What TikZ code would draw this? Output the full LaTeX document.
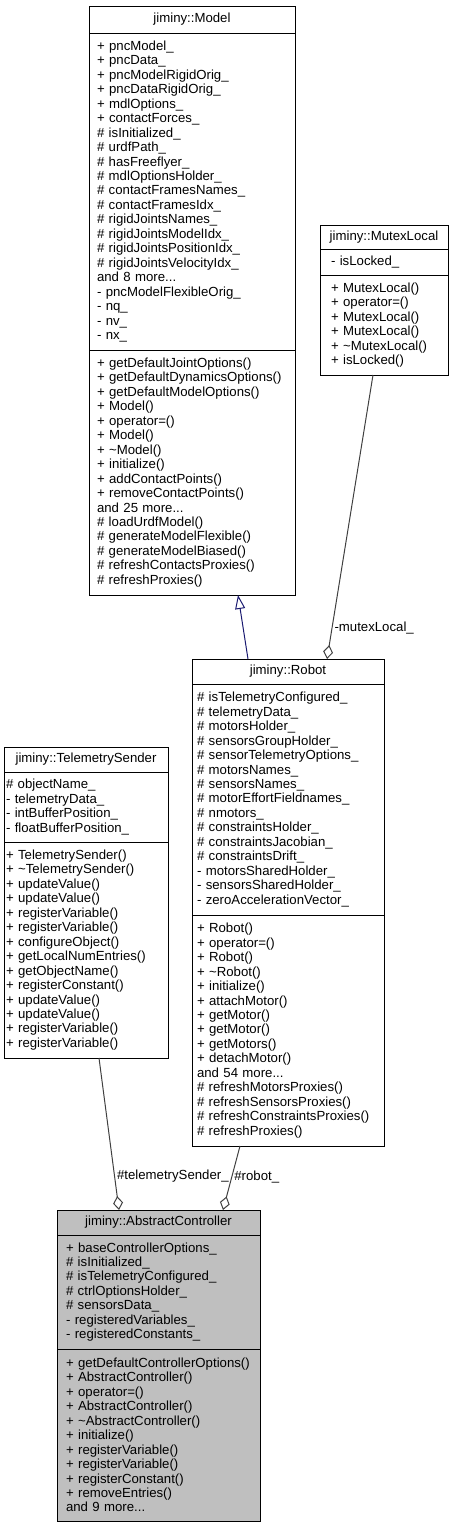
\documentclass[tikz,border=0pt]{standalone}
\usepackage{fontspec}
\setmainfont{Liberation Sans}
\usetikzlibrary{arrows.meta, positioning}

\definecolor{edgegray}{HTML}{404040}
\definecolor{inhblue}{HTML}{191970}
\definecolor{curgray}{HTML}{BFBFBF}

\begin{document}
\begin{tikzpicture}[
  x=1pt, y=-1pt,
  node distance=0pt,
  every node/.style={font={\fontsize{13.2}{14.45}\selectfont}},
  cname/.style={draw=black, line width=1pt, fill=white, anchor=north west,
    inner sep=0pt, outer sep=0pt, minimum height=25pt},
  cbody/.style={draw=black, line width=1pt, fill=white, align=left,
    inner ysep=0pt, outer sep=0pt},
  agg/.style={draw=edgegray, line width=1pt, -{Diamond[open, length=14pt, width=10pt]}},
  inh/.style={draw=inhblue, line width=1pt, -{Triangle[open, length=14pt, width=10pt]}},
  elabel/.style={inner sep=2pt, text=black}
]
  \useasboundingbox (0,0) rectangle (456,1527);

  % base class
  \node[cname, minimum width=206pt, minimum height=27pt] (model) at (89,6) {jiminy::Model};
  \node[cbody, below=of model, inner xsep=8pt, text width=190pt, minimum height=317pt] (model-a) {%
    + pncModel\_\\ + pncData\_\\ + pncModelRigidOrig\_\\ + pncDataRigidOrig\_\\
    + mdlOptions\_\\ + contactForces\_\\ \# isInitialized\_\\ \# urdfPath\_\\
    \# hasFreeflyer\_\\ \# mdlOptionsHolder\_\\ \# contactFramesNames\_\\
    \# contactFramesIdx\_\\ \# rigidJointsNames\_\\ \# rigidJointsModelIdx\_\\
    \# rigidJointsPositionIdx\_\\ \# rigidJointsVelocityIdx\_\\ and 8 more...\\
    - pncModelFlexibleOrig\_\\ - nq\_\\ - nv\_\\ - nx\_};
  \node[cbody, below=of model-a, inner xsep=8pt, text width=190pt, minimum height=245pt] (model-m) {%
    + getDefaultJointOptions()\\ + getDefaultDynamicsOptions()\\
    + getDefaultModelOptions()\\ + Model()\\ + operator=()\\ + Model()\\
    + \textasciitilde Model()\\ + initialize()\\ + addContactPoints()\\
    + removeContactPoints()\\ and 25 more...\\ \# loadUrdfModel()\\
    \# generateModelFlexible()\\ \# generateModelBiased()\\
    \# refreshContactsProxies()\\ \# refreshProxies()};

  % mutex
  \node[cname, minimum width=128pt, minimum height=24pt] (mutex) at (320,225) {jiminy::MutexLocal};
  \node[cbody, below=of mutex, inner xsep=11pt, text width=106pt, minimum height=26pt] (mutex-a) {- isLocked\_};
  \node[cbody, below=of mutex-a, inner xsep=11pt, text width=106pt, minimum height=100pt] (mutex-m) {%
    + MutexLocal()\\ + operator=()\\ + MutexLocal()\\ + MutexLocal()\\
    + \textasciitilde MutexLocal()\\ + isLocked()};

  % robot
  \node[cname, minimum width=192pt] (robot) at (192,659) {jiminy::Robot};
  \node[cbody, below=of robot, inner xsep=5pt, text width=182pt, minimum height=231pt] (robot-a) {%
    \# isTelemetryConfigured\_\\ \# telemetryData\_\\ \# motorsHolder\_\\
    \# sensorsGroupHolder\_\\ \# sensorTelemetryOptions\_\\ \# motorsNames\_\\
    \# sensorsNames\_\\ \# motorEffortFieldnames\_\\ \# nmotors\_\\
    \# constraintsHolder\_\\ \# constraintsJacobian\_\\ \# constraintsDrift\_\\
    - motorsSharedHolder\_\\ - sensorsSharedHolder\_\\ - zeroAccelerationVector\_};
  \node[cbody, below=of robot-a, inner xsep=5pt, text width=182pt, minimum height=231pt] (robot-m) {%
    + Robot()\\ + operator=()\\ + Robot()\\ + \textasciitilde Robot()\\
    + initialize()\\ + attachMotor()\\ + getMotor()\\ + getMotor()\\
    + getMotors()\\ + detachMotor()\\ and 54 more...\\
    \# refreshMotorsProxies()\\ \# refreshSensorsProxies()\\
    \# refreshConstraintsProxies()\\ \# refreshProxies()};

  % telemetry sender
  \node[cname, minimum width=164pt] (sender) at (4,747) {jiminy::TelemetrySender};
  \node[cbody, below=of sender, inner xsep=2pt, text width=160pt, minimum height=70pt] (sender-a) {%
    \# objectName\_\\ - telemetryData\_\\ - intBufferPosition\_\\ - floatBufferPosition\_};
  \node[cbody, below=of sender-a, inner xsep=2pt, text width=160pt, minimum height=216pt] (sender-m) {%
    + TelemetrySender()\\ + \textasciitilde TelemetrySender()\\ + updateValue()\\
    + updateValue()\\ + registerVariable()\\ + registerVariable()\\
    + configureObject()\\ + getLocalNumEntries()\\ + getObjectName()\\
    + registerConstant()\\ + updateValue()\\ + updateValue()\\
    + registerVariable()\\ + registerVariable()};

  % controller (current class)
  \node[cname, fill=curgray, minimum width=203pt] (ctrl) at (57,1210) {jiminy::AbstractController};
  \node[cbody, fill=curgray, below=of ctrl, inner xsep=9pt, text width=185pt, minimum height=114pt] (ctrl-a) {%
    + baseControllerOptions\_\\ \# isInitialized\_\\ \# isTelemetryConfigured\_\\
    \# ctrlOptionsHolder\_\\ \# sensorsData\_\\ - registeredVariables\_\\
    - registeredConstants\_};
  \node[cbody, fill=curgray, below=of ctrl-a, inner xsep=9pt, text width=185pt, minimum height=172pt] (ctrl-m) {%
    + getDefaultControllerOptions()\\ + AbstractController()\\ + operator=()\\
    + AbstractController()\\ + \textasciitilde AbstractController()\\
    + initialize()\\ + registerVariable()\\ + registerVariable()\\
    + registerConstant()\\ + removeEntries()\\ and 9 more...};

  \draw[inh] ([xshift=56pt]robot.north west) -- ([xshift=149pt]model-m.south west);
  \draw[agg] ([xshift=53pt]mutex-m.south west) --
    node[elabel, pos=0.89, right] {-mutexLocal\_} ([xshift=135pt]robot.north west);
  \draw[agg] ([xshift=95pt]sender-m.south west) --
    node[elabel, pos=0.78, right] {\#telemetrySender\_} ([xshift=62pt]ctrl.north west);
  \draw[agg] ([xshift=48pt]robot-m.south west) --
    node[elabel, pos=0.48, right] {\#robot\_} ([xshift=166pt]ctrl.north west);
\end{tikzpicture}
\end{document}
